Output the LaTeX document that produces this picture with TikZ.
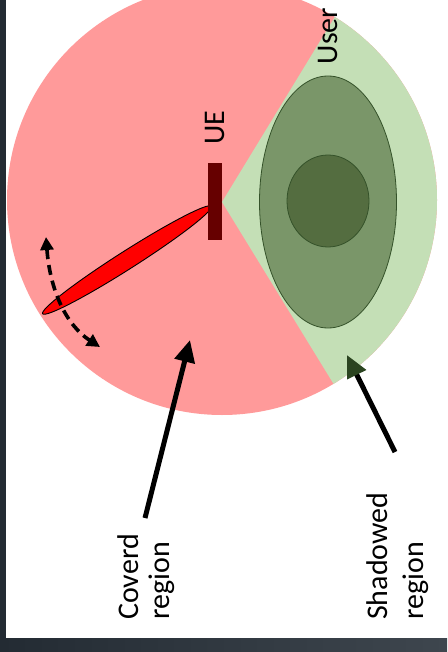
\documentclass[tikz,border=0pt]{standalone}
\usepackage{fontspec}
\setmainfont{Carlito}
\usetikzlibrary{arrows.meta,shapes.geometric}
\definecolor{covc}{HTML}{FF9A9A}
\definecolor{shadc}{HTML}{C4DFB6}
\definecolor{usrout}{HTML}{7A9669}
\definecolor{usrin}{HTML}{546D40}
\definecolor{usredge}{HTML}{35522A}
\definecolor{uec}{HTML}{660000}
\definecolor{framec}{HTML}{232B33}
\definecolor{framer}{HTML}{3E464E}
\definecolor{headg}{HTML}{2B4420}
\begin{document}
\begin{tikzpicture}[x=1pt,y=-1pt,
  lbl/.style={font=\fontsize{30}{33}\selectfont, inner sep=0pt, rotate=90, align=left},
  bigarrow/.style={line width=5pt, -{Triangle[length=22pt,width=20pt]}},
  swing/.style={line width=3.6pt, dash pattern=on 10pt off 6pt,
    {Triangle[length=13pt,width=13pt]}-{Triangle[length=13pt,width=13pt]}},
  useredge/.style={draw=usredge, line width=0.8pt}]
\useasboundingbox (0,0) rectangle (447,652);
\fill[white] (0,0) rectangle (447,652);
% coverage disc and shadowed wedge
\begin{scope}
  \clip (6,0) rectangle (447,638);
  \fill[covc] (222,200) circle[radius=215pt];
  \clip (222,200) circle[radius=215pt];
  \fill[shadc] (222,202) -- (376.5,-51.5) -- (600,-51.5) -- (600,473.5) -- (388.5,473.5) -- cycle;
\end{scope}
% user
\node[ellipse, useredge, fill=usrout, minimum width=137pt, minimum height=252pt, inner sep=0pt] (userout) at (328,202) {};
\node[ellipse, useredge, fill=usrin, minimum width=82pt, minimum height=92pt, inner sep=0pt] (userin) at (328,201) {};
% beam and UE
\node[ellipse, draw=black, fill=red, line width=0.9pt, minimum width=200pt, minimum height=18pt, inner sep=0pt, rotate=32.5] (beam) at (127,260) {};
\node[fill=uec, minimum width=14pt, minimum height=77pt, inner sep=0pt] (ue) at (215,201.5) {};
% swing arrow
\coordinate (swtop) at (46,237);
\coordinate (swbot) at (100,347);
\draw[swing] (swtop) .. controls (50,290) and (66,325) .. (swbot);
% labels
\node[lbl] (uelbl) at (215,128) {UE};
\node[lbl] (user) at (328,36) {User};
\node[lbl, anchor=north west, font=\fontsize{30}{31}\selectfont] (cov) at (117,620) {Coverd\\region};
\node[lbl, anchor=north west, font=\fontsize{30}{36}\selectfont] (shad) at (366,620) {Shadowed\\region};
% pointer arrows
\coordinate (covtail) at (145,518);
\coordinate (covtip) at (190,340);
\coordinate (shadtail) at (395,452);
\coordinate (shadtip) at (347,355);
\draw[bigarrow] (covtail) -- (covtip);
\draw[line width=5pt, -{Triangle[length=22pt,width=20pt,color=headg]}] (shadtail) -- (shadtip);
% frame
\fill[framec] (0,0) rectangle (6,652);
\shade[left color=framec, right color=framer] (0,638) rectangle (447,652);
\end{tikzpicture}
\end{document}
